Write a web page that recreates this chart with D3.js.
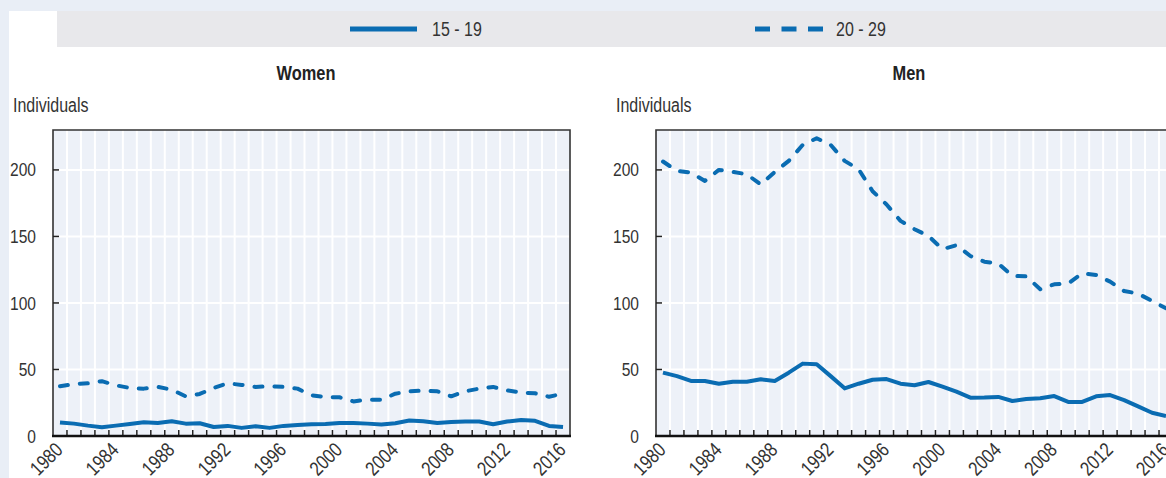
<!DOCTYPE html>
<html>
<head>
<meta charset="utf-8">
<script src="https://cdn.jsdelivr.net/npm/d3@7"></script>
<style>
  html, body { margin: 0; padding: 0; background: #e9eef6; }
  svg { display: block; font-family: "Liberation Sans", Arial, sans-serif; }
</style>
</head>
<body>
<div id="chart"></div>
<script>
const years = Array.from({ length: 37 }, (_, i) => 1980 + i);
const labelYears = [1980, 1984, 1988, 1992, 1996, 2000, 2004, 2008, 2012, 2016];
const yTicks = [0, 50, 100, 150, 200];
const seriesNames = ["15 - 19", "20 - 29"];

const women15 = [10.1, 9.3, 7.8, 6.6, 7.8, 9.1, 10.3, 9.8, 11.1, 9.3, 9.6, 6.8, 7.6, 6.1, 7.3, 6.1, 7.6, 8.3,
  8.8, 9.1, 9.8, 9.8, 9.3, 8.6, 9.6, 11.6, 11.1, 9.8, 10.6, 10.9, 10.9, 8.8, 10.9, 12.1, 11.4, 7.6, 6.8];
const women20 = [37.4, 39.1, 39.6, 41.2, 38.1, 36.1, 35.6, 36.9, 34.8, 29.8, 31.6, 36.1, 39.6, 38.4, 36.9, 37.4, 36.9, 35.6,
  30.6, 29.3, 29.1, 26, 27.3, 27.3, 31.8, 33.6, 34.1, 33.6, 29.8, 33.6, 35.6, 36.9, 34.3, 32.6, 32.1, 29.5, 31.8];
const men15 = [47.6, 45, 41.4, 41.4, 39.3, 40.8, 40.8, 42.6, 41.4, 47.6, 54.4, 54, 45, 35.8, 39.3, 42.3, 42.8, 39.3,
  38.1, 40.6, 37.1, 33.3, 28.8, 28.9, 29.4, 26.3, 27.8, 28.3, 30, 25.6, 25.6, 29.8, 30.8, 27, 22.3, 17.5, 15];
const men20 = [206.3, 199.2, 198, 191.7, 200, 198.5, 196.7, 189, 198.5, 206.8, 218.8, 223.8, 218.8, 206.8, 200.5, 184, 174, 161.7,
  155.4, 150.4, 140.4, 143.4, 135.3, 131, 129.6, 120.3, 120, 110.3, 114, 114.6, 122.3, 121, 116, 109, 107, 101.5, 96];

const width = 1166, height = 478;
const blue = "#0a6cb2";
const plotTop = 130, plotBottom = 436, plotWidth = 517;
const narrow = 0.82; // no condensed font installed, squeeze the glyphs instead

const svg = d3.select("#chart").append("svg")
  .attr("width", width)
  .attr("height", height);

// narrow text placed at (x, y)
const addText = (sel, x, y, str, size) => sel.append("text")
  .attr("transform", `translate(${x},${y}) scale(${narrow},1)`)
  .attr("font-size", size).attr("fill", "#333").text(str);

// white sheet and grey legend band
svg.append("rect").attr("x", 9).attr("y", 11).attr("width", width).attr("height", height).attr("fill", "#fff");
svg.append("rect").attr("x", 57).attr("y", 11).attr("width", width).attr("height", 36).attr("fill", "#e8e8eb");

const legend = svg.append("g");
legend.append("line").attr("x1", 350).attr("x2", 417).attr("y1", 29).attr("y2", 29)
  .attr("stroke", blue).attr("stroke-width", 5);
addText(legend, 432, 36, seriesNames[0], 19.5);
legend.append("line").attr("x1", 755).attr("x2", 823).attr("y1", 29).attr("y2", 29)
  .attr("stroke", blue).attr("stroke-width", 5).attr("stroke-dasharray", "15,11.5");
addText(legend, 836, 36, seriesNames[1], 19.5);

const y = d3.scaleLinear().domain([0, 230]).range([plotBottom, plotTop]);

function drawPanel(left, title, solid, dashed) {
  const x = d3.scaleBand().domain(years).range([left, left + plotWidth]);
  const cx = d => x(d) + x.bandwidth() / 2;
  const g = svg.append("g");

  addText(g, left + 253, 80, title, 20)
    .attr("text-anchor", "middle").attr("font-weight", "bold").attr("fill", "#222");
  addText(g, left - 40, 112, "Individuals", 19.5);

  g.append("rect").attr("x", left).attr("y", plotTop).attr("width", plotWidth)
    .attr("height", plotBottom - plotTop).attr("fill", "#edf1f8");

  // vertical grid at band edges
  g.selectAll(".vgrid").data(years.slice(1)).enter().append("line")
    .attr("x1", d => x(d)).attr("x2", d => x(d))
    .attr("y1", plotTop).attr("y2", plotBottom)
    .attr("stroke", "#fff").attr("stroke-width", 2);
  g.selectAll(".hgrid").data(yTicks.slice(1)).enter().append("line")
    .attr("x1", left).attr("x2", left + plotWidth)
    .attr("y1", d => y(d)).attr("y2", d => y(d))
    .attr("stroke", "#fff").attr("stroke-width", 2);

  // frame
  g.append("path")
    .attr("d", `M${left},${plotBottom}V${plotTop}H${left + plotWidth}V${plotBottom}`)
    .attr("fill", "none").attr("stroke", "#333").attr("stroke-width", 1.6);

  // inner ticks
  g.selectAll(".xtick").data(years.slice(1)).enter().append("line")
    .attr("x1", d => x(d)).attr("x2", d => x(d))
    .attr("y1", plotBottom).attr("y2", plotBottom - 6)
    .attr("stroke", "#222").attr("stroke-width", 1.5);
  g.selectAll(".ytick").data(yTicks.slice(1)).enter().append("line")
    .attr("x1", left).attr("x2", left + 6)
    .attr("y1", d => y(d)).attr("y2", d => y(d))
    .attr("stroke", "#222").attr("stroke-width", 1.5);

  const yAxis = g.append("g").attr("transform", `translate(${left},0)`)
    .call(d3.axisLeft(y).tickValues(yTicks).tickSize(0));
  yAxis.select(".domain").remove();
  yAxis.selectAll("text")
    .attr("x", -17 / narrow).attr("transform", `scale(${narrow},1)`)
    .attr("font-size", 19).attr("fill", "#333").attr("font-family", null);

  const line = d3.line().x((d, i) => cx(years[i])).y(d => y(d));
  g.append("path").datum(dashed).attr("d", line)
    .attr("fill", "none").attr("stroke", blue).attr("stroke-width", 4)
    .attr("stroke-linecap", "round").attr("stroke-linejoin", "round").attr("stroke-dasharray", "8,12");
  g.append("path").datum(solid).attr("d", line)
    .attr("fill", "none").attr("stroke", blue).attr("stroke-width", 4)
    .attr("stroke-linejoin", "round");

  g.append("line").attr("x1", left - 1).attr("x2", left + plotWidth + 1)
    .attr("y1", plotBottom).attr("y2", plotBottom)
    .attr("stroke", "#111").attr("stroke-width", 2.5);

  g.selectAll(".xlabel").data(labelYears).enter().append("text")
    .attr("transform", d => `translate(${cx(d) + 4},${plotBottom + 15}) rotate(-45) scale(${narrow},1)`)
    .attr("text-anchor", "end").attr("font-size", 20).attr("fill", "#333")
    .text(d => d);
}

drawPanel(53, "Women", women15, women20);
drawPanel(656, "Men", men15, men20);
</script>
</body>
</html>
